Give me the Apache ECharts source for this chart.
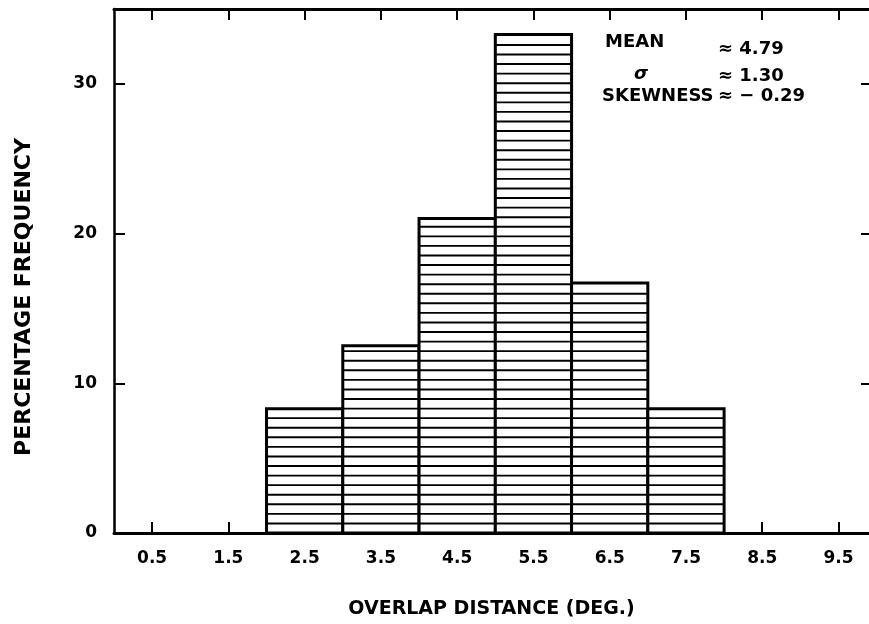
<!DOCTYPE html>
<html>
<head>
<meta charset="utf-8">
<script src="https://cdn.jsdelivr.net/npm/echarts@6/dist/echarts.min.js"></script>
<style>
html,body{margin:0;padding:0;background:#fff;overflow:hidden;}
#chart{width:869px;height:624px;}
</style>
</head>
<body>
<div id="chart"></div>
<script>
// ---- data ----
var binStarts = [2, 3, 4, 5, 6, 7];
var binEnds   = [3, 4, 5, 6, 7, 8];
var percentFrequency = [8.3, 12.5, 21.0, 33.3, 16.7, 8.3];
var xTickValues = [0.5, 1.5, 2.5, 3.5, 4.5, 5.5, 6.5, 7.5, 8.5, 9.5];
var xTickLabels = ['0.5', '1.5', '2.5', '3.5', '4.5', '5.5', '6.5', '7.5', '8.5', '9.5'];
var yTickValues = [0, 10, 20, 30];
var yTickLabels = ['0', '10', '20', '30'];
var statNames = ['MEAN', '\u03C3', 'SKEWNESS'];
var statValues = ['\u2248 4.79', '\u2248 1.30', '\u2248 \u2212 0.29'];
var xTitle = 'OVERLAP DISTANCE (DEG.)';
var yTitle = 'PERCENTAGE FREQUENCY';

var FONT = '"DejaVu Sans", sans-serif';
var seriesData = binStarts.map(function (s, i) { return [s, binEnds[i], percentFrequency[i]]; });

var chart = echarts.init(document.getElementById('chart'), null, {renderer: 'canvas'});

function renderBar(params, api) {
  var x0 = api.value(0), x1 = api.value(1), v = api.value(2);
  var p0 = api.coord([x0, 0]);
  var p1 = api.coord([x1, v]);
  var left = p0[0], right = p1[0], bottom = p0[1], top = p1[1];
  var children = [];
  children.push({type: 'rect', shape: {x: left, y: top, width: right - left, height: bottom - top},
    style: {fill: '#fff'}});
  var step = 9.57;
  for (var y = bottom - step; y > top + 3; y -= step) {
    children.push({type: 'line', shape: {x1: left, y1: y, x2: right, y2: y},
      style: {stroke: '#000', lineWidth: 1.9}});
  }
  children.push({type: 'rect', shape: {x: left, y: top, width: right - left, height: bottom - top},
    style: {fill: null, stroke: '#000', lineWidth: 3}});
  return {type: 'group', children: children};
}

var axisLineStyle = {color: '#000', width: 3};
var tickStyle = {color: '#000', width: 2};

var statGraphics = [];
var nameX = [605, 634, 602];
var nameY = [42, 74, 96];
var valY = [49, 76, 96];
for (var i = 0; i < statNames.length; i++) {
  statGraphics.push({type: 'text', x: nameX[i], y: nameY[i],
    style: {text: statNames[i], fill: '#000',
      font: (i === 1 ? 'italic ' : '') + 'bold 18px ' + FONT,
      textAlign: 'left', textVerticalAlign: 'middle'}});
  statGraphics.push({type: 'text', x: 718, y: valY[i],
    style: {text: statValues[i], fill: '#000', font: 'bold 18px ' + FONT,
      textAlign: 'left', textVerticalAlign: 'middle'}});
}

var option = {
  backgroundColor: '#fff',
  animation: false,
  grid: {left: 114, width: 758, top: 9, bottom: 89},
  xAxis: [{
    type: 'value', min: 0, max: 9.9, position: 'bottom',
    axisLine: {show: true, onZero: false, lineStyle: axisLineStyle},
    axisTick: {show: true, inside: true, length: 11, customValues: xTickValues, lineStyle: tickStyle},
    axisLabel: {show: true, customValues: xTickValues, margin: 17,
      formatter: function (v) { var k = xTickValues.indexOf(v); return k >= 0 ? xTickLabels[k] : ''; },
      color: '#000', fontFamily: FONT, fontWeight: 'bold', fontSize: 17},
    splitLine: {show: false},
    name: xTitle, nameLocation: 'middle', nameGap: 67,
    nameTextStyle: {color: '#000', fontFamily: FONT, fontWeight: 'bold', fontSize: 19}
  }, {
    type: 'value', min: 0, max: 9.9, position: 'top',
    axisLine: {show: true, onZero: false, lineStyle: axisLineStyle},
    axisTick: {show: true, inside: true, length: 11, customValues: xTickValues, lineStyle: tickStyle},
    axisLabel: {show: false},
    splitLine: {show: false}
  }],
  yAxis: [{
    type: 'value', min: 0, max: 35, position: 'left',
    axisLine: {show: true, onZero: false, lineStyle: {color: '#000', width: 2.5}},
    axisTick: {show: true, inside: true, length: 11, customValues: yTickValues, lineStyle: tickStyle},
    axisLabel: {show: true, customValues: yTickValues, margin: 17,
      formatter: function (v) { var k = yTickValues.indexOf(v); return k >= 0 ? yTickLabels[k] : ''; },
      color: '#000', fontFamily: FONT, fontWeight: 'bold', fontSize: 17},
    splitLine: {show: false}
  }, {
    type: 'value', min: 0, max: 35, position: 'right',
    axisLine: {show: false, onZero: false},
    axisTick: {show: true, inside: true, length: 8, customValues: yTickValues, lineStyle: tickStyle},
    axisLabel: {show: false},
    splitLine: {show: false}
  }],
  graphic: [{
    type: 'text', x: 24, y: 297, rotation: Math.PI / 2,
    style: {text: yTitle, fill: '#000', font: 'bold 22px ' + FONT,
      textAlign: 'center', textVerticalAlign: 'middle'}
  }].concat(statGraphics),
  series: [{
    type: 'custom',
    xAxisIndex: 0, yAxisIndex: 0,
    renderItem: renderBar,
    encode: {x: [0, 1], y: 2},
    data: seriesData,
    z: 1
  }]
};
chart.setOption(option);
</script>
</body>
</html>
